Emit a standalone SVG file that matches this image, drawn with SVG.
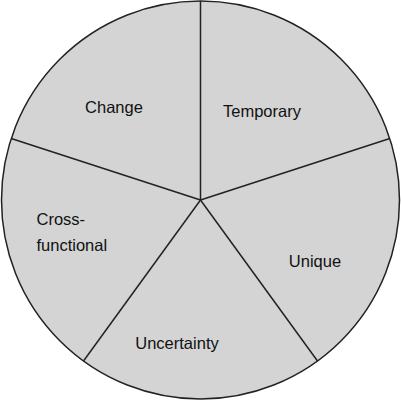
<svg xmlns="http://www.w3.org/2000/svg" width="401" height="401" viewBox="0 0 401 401">
<style>
.seg{fill:#d4d4d4;stroke:none}
.c{fill:none;stroke:#222;stroke-width:1.5}
.l{stroke:#222;stroke-width:1.5}
text{font-family:"Liberation Sans",Arial,sans-serif;font-size:16.5px;fill:#111}
</style>
<rect width="401" height="401" fill="#fff"/>
<g id="pie">
<circle class="seg" cx="200.5" cy="200" r="199"/>
<circle class="c" cx="200.5" cy="200" r="199"/>
</g>
<g id="connectors">
<line class="l" x1="200.5" y1="200" x2="200.5" y2="1"/>
<line class="l" x1="200.5" y1="200" x2="389.8" y2="138.5"/>
<line class="l" x1="200.5" y1="200" x2="317.5" y2="361"/>
<line class="l" x1="200.5" y1="200" x2="83.5" y2="361"/>
<line class="l" x1="200.5" y1="200" x2="11.2" y2="138.5"/>
</g>
<g id="change"><text x="114" y="113" text-anchor="middle">Change</text></g>
<g id="temporary"><text x="262" y="116.5" text-anchor="middle">Temporary</text></g>
<g id="cross"><text x="36.5" y="225">Cross-</text><text x="36.5" y="250.5">functional</text></g>
<g id="unique"><text x="315" y="267" text-anchor="middle">Unique</text></g>
<g id="uncertainty"><text x="177" y="348.5" text-anchor="middle">Uncertainty</text></g>
</svg>
